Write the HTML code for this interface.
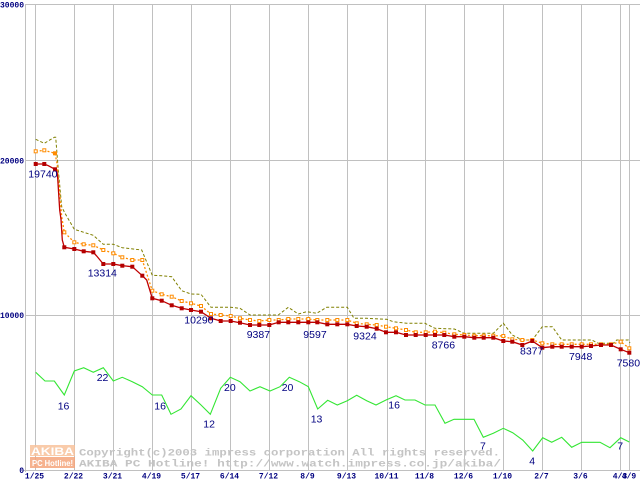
<!DOCTYPE html>
<html><head><meta charset="utf-8"><style>
html,body{margin:0;padding:0;background:#fff;}
svg{display:block;}
.yl{font-family:"Liberation Mono",monospace;font-weight:bold;font-size:8px;fill:#000080;}
.xl{font-family:"Liberation Mono",monospace;font-weight:bold;font-size:8px;fill:#000080;}
.nl{font-family:"Liberation Sans",sans-serif;font-size:10.5px;fill:#000080;}
.cp{font-family:"Liberation Mono",monospace;font-weight:bold;font-size:10.5px;fill:#c4c4c4;}
</style></head><body>
<svg width="640" height="480" viewBox="0 0 640 480" xmlns="http://www.w3.org/2000/svg">
<rect width="640" height="480" fill="#fff"/>
<g stroke="#c0c0c0" stroke-width="1" fill="none">
<line x1="25" y1="4.5" x2="640" y2="4.5"/>
<line x1="25" y1="160.5" x2="640" y2="160.5"/>
<line x1="25" y1="315.5" x2="640" y2="315.5"/>
<line x1="23" y1="470.5" x2="640" y2="470.5"/>
<line x1="25.5" y1="4" x2="25.5" y2="472"/>
<line x1="35.5" y1="4" x2="35.5" y2="471"/>
<line x1="74.5" y1="4" x2="74.5" y2="471"/>
<line x1="113.5" y1="4" x2="113.5" y2="471"/>
<line x1="152.5" y1="4" x2="152.5" y2="471"/>
<line x1="191.5" y1="4" x2="191.5" y2="471"/>
<line x1="230.5" y1="4" x2="230.5" y2="471"/>
<line x1="269.5" y1="4" x2="269.5" y2="471"/>
<line x1="308.5" y1="4" x2="308.5" y2="471"/>
<line x1="347.5" y1="4" x2="347.5" y2="471"/>
<line x1="387.5" y1="4" x2="387.5" y2="471"/>
<line x1="425.5" y1="4" x2="425.5" y2="471"/>
<line x1="464.5" y1="4" x2="464.5" y2="471"/>
<line x1="503.5" y1="4" x2="503.5" y2="471"/>
<line x1="542.5" y1="4" x2="542.5" y2="471"/>
<line x1="581.5" y1="4" x2="581.5" y2="471"/>
<line x1="620.5" y1="4" x2="620.5" y2="471"/>
<line x1="629.5" y1="4" x2="629.5" y2="471"/>
</g>

<g opacity="0.85">
<rect x="30" y="445" width="45" height="11" fill="#f8c29c"/>
<rect x="30" y="457" width="45" height="11" fill="#f5a57c"/>
<text x="31" y="455" font-family="Liberation Sans,sans-serif" font-weight="bold" font-size="11" fill="#fff" textLength="43" lengthAdjust="spacingAndGlyphs">AKIBA</text>
<text x="32" y="466" font-family="Liberation Sans,sans-serif" font-weight="bold" font-size="8" fill="#fff" textLength="41" lengthAdjust="spacingAndGlyphs">PC Hotline!</text>
</g>
<text class="cp" x="79" y="455.5" textLength="421" lengthAdjust="spacingAndGlyphs">Copyright(c)2003 impress corporation All rights reserved.</text>
<text class="cp" x="79" y="466.5" textLength="422" lengthAdjust="spacingAndGlyphs">AKIBA PC Hotline!  http://www.watch.impress.co.jp/akiba/</text>

<text class="yl" x="24" y="7.5" text-anchor="end">30000</text>
<text class="yl" x="24" y="163.5" text-anchor="end">20000</text>
<text class="yl" x="24" y="318" text-anchor="end">10000</text>
<text class="yl" x="24" y="473" text-anchor="end">0</text>

<g class="xl" text-anchor="middle">
<text x="34.5" y="478.5">1/25</text>
<text x="73.5" y="478.5">2/22</text>
<text x="112.5" y="478.5">3/21</text>
<text x="151.5" y="478.5">4/19</text>
<text x="190.5" y="478.5">5/17</text>
<text x="229.5" y="478.5">6/14</text>
<text x="268.5" y="478.5">7/12</text>
<text x="307.5" y="478.5">8/9</text>
<text x="346.5" y="478.5">9/13</text>
<text x="386.5" y="478.5">10/11</text>
<text x="424.5" y="478.5">11/8</text>
<text x="463.5" y="478.5">12/6</text>
<text x="502.5" y="478.5">1/10</text>
<text x="541.5" y="478.5">2/7</text>
<text x="580.5" y="478.5">3/6</text>
<text x="620" y="478.5">4/3</text>
<text x="629" y="478.5">4/9</text>
</g>

<polyline fill="none" stroke="#808000" stroke-width="1" stroke-dasharray="3 2" points="35.7,139.3 44.3,143.3 54.3,137.3 55.7,137.3 58.3,170 61.7,206.7 65,213.3 74.3,229.3 83.7,232.3 93.3,235.3 103.3,244.3 113.3,244.3 122.3,247.7 141.7,250 152.3,275.3 161.7,275.7 171.7,276.7 181.7,290.7 191,294 201,294.3 211,307.3 230.7,307.3 240,308.3 250,315 278.3,315 288.3,307.3 298.3,314 306.7,311.7 316.7,313.3 326.7,307.3 347.3,307.3 354,318.3 366.7,318.3 386.7,319.3 393.3,321.7 406.7,323.3 425,323.3 435,328.3 454.3,329 464.3,333.3 493.3,333.3 503.3,323.3 512.3,335 522.3,340 532.3,340 542.3,326.7 552.3,326.7 561.7,340 591.7,340 598.3,343.3 613.3,343.3 616.7,340 628.3,340 630,343"/>

<polyline fill="none" stroke="#ff8c00" stroke-width="1.3" stroke-dasharray="2 2" points="35.7,151.3 44.3,150.3 55,153.3 57,163.3 60,196.7 61.7,216.7 64.3,232.3 74.3,242.3 83.7,244.3 93.3,245.3 103.3,250 113.3,253.3 122.3,257.3 132.3,260 142.3,260 152.3,290.7 161.7,294.3 171.7,296.7 181.7,301 191,303.3 201,306 211,314 220.7,315 230.7,316 240,318.3 250,320 259.3,321 269.3,320 278.7,320 288.3,319 298.3,319 308.3,319 317.3,320 327.3,320 337.3,320 347.3,320 356.7,323.3 366.7,324.3 376.7,325 386,326.7 396,328.3 406,330 415.7,332.3 425.7,332.3 435,331.7 444.3,332.7 454.3,334.3 464.3,335 474.3,335.7 483.7,335.7 493.3,335.7 503.3,336 512.3,339.3 522.3,340 532.3,340 542.3,343.3 552.3,344.3 561.7,344.3 571.7,344.3 581.7,344.3 591,344.3 601,344.3 611,344.3 620.7,341.7 629.3,348.3"/>
<g fill="#fff" stroke="#ff8c00" stroke-width="1">
<rect x="34.2" y="149.8" width="3" height="3"/><rect x="42.8" y="148.8" width="3" height="3"/><rect x="53.5" y="151.8" width="3" height="3" fill="#ff8c00"/><rect x="62.8" y="230.8" width="3" height="3"/><rect x="72.8" y="240.8" width="3" height="3"/><rect x="82.2" y="242.8" width="3" height="3"/><rect x="91.8" y="243.8" width="3" height="3"/><rect x="101.8" y="248.5" width="3" height="3"/><rect x="111.8" y="251.8" width="3" height="3"/><rect x="120.8" y="255.8" width="3" height="3"/><rect x="130.8" y="258.5" width="3" height="3"/><rect x="140.8" y="258.5" width="3" height="3"/><rect x="150.8" y="289.2" width="3" height="3"/><rect x="160.2" y="292.8" width="3" height="3"/><rect x="170.2" y="295.2" width="3" height="3"/><rect x="180.2" y="299.5" width="3" height="3"/><rect x="189.5" y="301.8" width="3" height="3"/><rect x="199.5" y="304.5" width="3" height="3"/><rect x="209.5" y="312.5" width="3" height="3"/><rect x="219.2" y="313.5" width="3" height="3"/><rect x="229.2" y="314.5" width="3" height="3"/><rect x="238.5" y="316.8" width="3" height="3"/><rect x="248.5" y="318.5" width="3" height="3"/><rect x="257.8" y="319.5" width="3" height="3"/><rect x="267.8" y="318.5" width="3" height="3"/><rect x="277.2" y="318.5" width="3" height="3"/><rect x="286.8" y="317.5" width="3" height="3"/><rect x="296.8" y="317.5" width="3" height="3"/><rect x="306.8" y="317.5" width="3" height="3"/><rect x="315.8" y="318.5" width="3" height="3"/><rect x="325.8" y="318.5" width="3" height="3"/><rect x="335.8" y="318.5" width="3" height="3"/><rect x="345.8" y="318.5" width="3" height="3"/><rect x="355.2" y="321.8" width="3" height="3"/><rect x="365.2" y="322.8" width="3" height="3"/><rect x="375.2" y="323.5" width="3" height="3"/><rect x="384.5" y="325.2" width="3" height="3"/><rect x="394.5" y="326.8" width="3" height="3"/><rect x="404.5" y="328.5" width="3" height="3"/><rect x="414.2" y="330.8" width="3" height="3"/><rect x="424.2" y="330.8" width="3" height="3"/><rect x="433.5" y="330.2" width="3" height="3"/><rect x="442.8" y="331.2" width="3" height="3"/><rect x="452.8" y="332.8" width="3" height="3"/><rect x="462.8" y="333.5" width="3" height="3"/><rect x="472.8" y="334.2" width="3" height="3"/><rect x="482.2" y="334.2" width="3" height="3"/><rect x="491.8" y="334.2" width="3" height="3"/><rect x="501.8" y="334.5" width="3" height="3"/><rect x="510.8" y="337.8" width="3" height="3"/><rect x="520.8" y="338.5" width="3" height="3"/><rect x="530.8" y="338.5" width="3" height="3"/><rect x="540.8" y="341.8" width="3" height="3"/><rect x="550.8" y="342.8" width="3" height="3"/><rect x="560.2" y="342.8" width="3" height="3"/><rect x="570.2" y="342.8" width="3" height="3"/><rect x="580.2" y="342.8" width="3" height="3"/><rect x="589.5" y="342.8" width="3" height="3"/><rect x="599.5" y="342.8" width="3" height="3"/><rect x="609.5" y="342.8" width="3" height="3"/><rect x="619.2" y="340.2" width="3" height="3"/><rect x="627.8" y="346.8" width="3" height="3"/>
</g>

<polyline fill="none" stroke="#c00000" stroke-width="1.3" points="35.7,164 44.3,164 48.3,165.7 55,169.3 57,171.7 57.7,178.3 59.7,210 61,219.3 62.3,240 64.3,247.3 74.3,249 83.7,251.3 93.3,252.3 96.7,256 103.3,264 113.3,264 122.3,265.7 132.3,266.7 142.3,275.7 146.7,280 152.3,298.3 161.7,300.7 171.7,305.3 181.7,308.3 191,310 201,311.7 211,318.3 220.7,321 230.7,321 240,322.7 250,325 259.3,325 269.3,325 278.7,322.3 288.3,322.3 298.3,322.3 308.3,322.3 317.3,322.3 327.3,324.3 337.3,324.3 347.3,324.3 356.7,326 366.7,326.7 376.7,328.7 386,332.3 396,332.3 406,335 415.7,335 425.7,335 435,335 444.3,335 454.3,336.7 464.3,336.7 474.3,337.7 483.7,337.7 493.3,337.7 503.3,341 512.3,341.7 522.3,345 532.3,341 542.3,347.7 552.3,346.7 561.7,346.7 571.7,346.7 581.7,346.7 591,346 601,345 611,345 620.7,349.3 629.3,352.7"/>
<g fill="#b40000">
<rect x="33.7" y="162" width="4" height="4"/><rect x="42.3" y="162" width="4" height="4"/><rect x="53" y="167.3" width="4" height="4"/><rect x="62.3" y="245.3" width="4" height="4"/><rect x="72.3" y="247" width="4" height="4"/><rect x="81.7" y="249.3" width="4" height="4"/><rect x="91.3" y="250.3" width="4" height="4"/><rect x="101.3" y="262" width="4" height="4"/><rect x="111.3" y="262" width="4" height="4"/><rect x="120.3" y="263.7" width="4" height="4"/><rect x="130.3" y="264.7" width="4" height="4"/><rect x="140.3" y="273.7" width="4" height="4"/><rect x="150.3" y="296.3" width="4" height="4"/><rect x="159.7" y="298.7" width="4" height="4"/><rect x="169.7" y="303.3" width="4" height="4"/><rect x="179.7" y="306.3" width="4" height="4"/><rect x="189" y="308" width="4" height="4"/><rect x="199" y="309.7" width="4" height="4"/><rect x="209" y="316.3" width="4" height="4"/><rect x="218.7" y="319" width="4" height="4"/><rect x="228.7" y="319" width="4" height="4"/><rect x="238" y="320.7" width="4" height="4"/><rect x="248" y="323" width="4" height="4"/><rect x="257.3" y="323" width="4" height="4"/><rect x="267.3" y="323" width="4" height="4"/><rect x="276.7" y="320.3" width="4" height="4"/><rect x="286.3" y="320.3" width="4" height="4"/><rect x="296.3" y="320.3" width="4" height="4"/><rect x="306.3" y="320.3" width="4" height="4"/><rect x="315.3" y="320.3" width="4" height="4"/><rect x="325.3" y="322.3" width="4" height="4"/><rect x="335.3" y="322.3" width="4" height="4"/><rect x="345.3" y="322.3" width="4" height="4"/><rect x="354.7" y="324" width="4" height="4"/><rect x="364.7" y="324.7" width="4" height="4"/><rect x="374.7" y="326.7" width="4" height="4"/><rect x="384" y="330.3" width="4" height="4"/><rect x="394" y="330.3" width="4" height="4"/><rect x="404" y="333" width="4" height="4"/><rect x="413.7" y="333" width="4" height="4"/><rect x="423.7" y="333" width="4" height="4"/><rect x="433" y="333" width="4" height="4"/><rect x="442.3" y="333" width="4" height="4"/><rect x="452.3" y="334.7" width="4" height="4"/><rect x="462.3" y="334.7" width="4" height="4"/><rect x="472.3" y="335.7" width="4" height="4"/><rect x="481.7" y="335.7" width="4" height="4"/><rect x="491.3" y="335.7" width="4" height="4"/><rect x="501.3" y="339" width="4" height="4"/><rect x="510.3" y="339.7" width="4" height="4"/><rect x="520.3" y="343" width="4" height="4"/><rect x="530.3" y="339" width="4" height="4"/><rect x="540.3" y="345.7" width="4" height="4"/><rect x="550.3" y="344.7" width="4" height="4"/><rect x="559.7" y="344.7" width="4" height="4"/><rect x="569.7" y="344.7" width="4" height="4"/><rect x="579.7" y="344.7" width="4" height="4"/><rect x="589" y="344" width="4" height="4"/><rect x="599" y="343" width="4" height="4"/><rect x="609" y="343" width="4" height="4"/><rect x="618.7" y="347.3" width="4" height="4"/><rect x="627.3" y="350.7" width="4" height="4"/>
</g>

<polyline fill="none" stroke="#33e633" stroke-width="1.1" points="35.7,372.3 45,381 54.3,381 64.3,395 74.3,371 83.7,367.7 93.3,372.3 103.3,367.7 113.3,381 122.3,377.3 132.3,381.7 142.3,386.7 152.3,395 161.7,395 171,414.3 181,409 191,395.7 201,405 210.3,414.3 220.7,388.3 230.3,377.3 240,381.7 250,391 260,386.7 270,391 280,386.7 289.3,377.3 299.3,381.7 308.3,386.7 317.7,409 327.7,400.3 337.3,405 347.3,400.7 356.7,395.3 366.7,400.7 376,405 386,400 396,395.7 405,400 415,400 425,405 435,405 445,423.3 454,419.3 474,419.3 483.3,437.3 493.3,433.3 503.3,428.3 512.7,432.7 522.7,440 532.7,451 542.7,437.7 551.7,442.3 561.7,437.3 571.7,447.3 581.7,442.3 600,442.3 610,447.7 620.7,437.7 629.3,442"/>

<g class="nl">
<text x="28.3" y="177.5">19740</text>
<text x="87.7" y="276.5">13314</text>
<text x="184.3" y="323.3">10290</text>
<text x="246.7" y="337.8">9387</text>
<text x="303.3" y="337.8">9597</text>
<text x="353.3" y="339.3">9324</text>
<text x="431.7" y="348.5">8766</text>
<text x="520" y="354.5">8377</text>
<text x="569" y="360">7948</text>
<text x="616.7" y="366.5">7580</text>
<text x="57.7" y="409.3">16</text>
<text x="96.7" y="381">22</text>
<text x="154.3" y="409.3">16</text>
<text x="203.3" y="427.7">12</text>
<text x="224" y="391">20</text>
<text x="281.7" y="391">20</text>
<text x="310.7" y="422.7">13</text>
<text x="388.3" y="408.3">16</text>
<text x="480" y="449.3">7</text>
<text x="529.3" y="464.3">4</text>
<text x="617.3" y="449.3">7</text>
</g>
</svg>
</body></html>
